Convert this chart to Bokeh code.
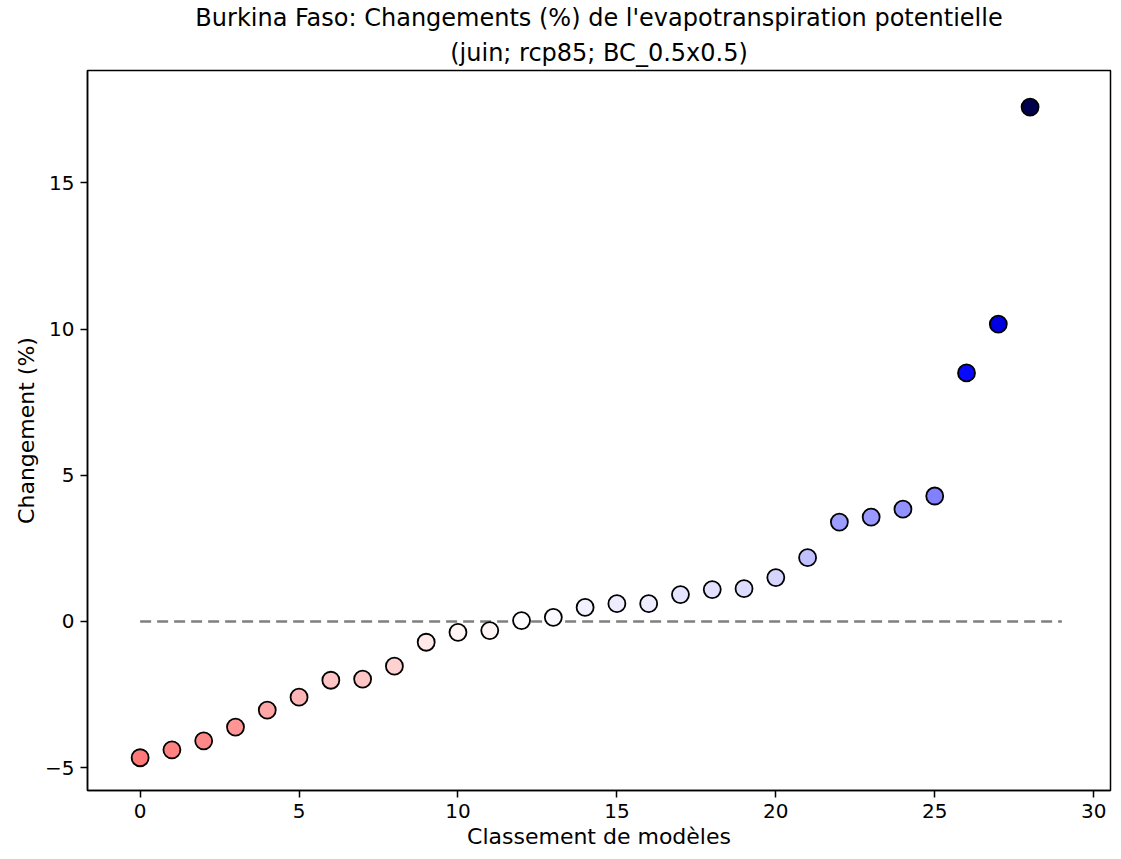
from bokeh.plotting import figure
from bokeh.models import Range1d, LinearColorMapper, ColumnDataSource, FixedTicker, Title
from bokeh.transform import transform
from bokeh.embed import file_html
from bokeh.resources import INLINE

# Data
rank = list(range(29))
change = [-4.66, -4.39, -4.08, -3.61, -3.03, -2.59, -2.01, -1.97, -1.53, -0.71,
          -0.37, -0.31, 0.03, 0.14, 0.48, 0.61, 0.61, 0.92, 1.09, 1.12,
          1.50, 2.18, 3.40, 3.57, 3.84, 4.29, 8.50, 10.17, 17.59]
x_ticks = [0, 5, 10, 15, 20, 25, 30]
y_ticks = [-5, 0, 5, 10, 15]
title_lines = ["Burkina Faso: Changements (%) de l'evapotranspiration potentielle",
               "(juin; rcp85; BC_0.5x0.5)"]
x_label = "Classement de modèles"
y_label = "Changement (%)"

# seismic_r style palette (dark red -> red -> white -> blue -> dark blue)
anchors = [(0.0, (0.5, 0.0, 0.0)), (0.25, (1.0, 0.0, 0.0)), (0.5, (1.0, 1.0, 1.0)),
           (0.75, (0.0, 0.0, 1.0)), (1.0, (0.0, 0.0, 0.3))]
palette = []
N = 256
for i in range(N):
    t = i / (N - 1)
    for (t0, c0), (t1, c1) in zip(anchors[:-1], anchors[1:]):
        if t0 <= t <= t1:
            f = (t - t0) / (t1 - t0)
            c = [c0[k] + (c1[k] - c0[k]) * f for k in range(3)]
            break
    palette.append("#%02x%02x%02x" % tuple(int(round(v * 255)) for v in c))

vmax = max(abs(v) for v in change)
mapper = LinearColorMapper(palette=palette, low=-vmax, high=vmax)

src = ColumnDataSource(dict(x=rank, y=change))

FONT = "DejaVu Sans"
p = figure(width=1113, height=851, output_backend="svg", toolbar_location=None,
           x_range=Range1d(-1.656, 30.53), y_range=Range1d(-5.78, 18.84),
           min_border_left=87, min_border_right=3, min_border_bottom=0, min_border_top=12)
p.title = None
standoffs = [2, 8]
for line, so in reversed(list(zip(title_lines, standoffs))):
    p.add_layout(Title(text=line, align="center", text_font=FONT, text_font_size="24px",
                       text_font_style="normal", text_color="black", standoff=so,
                       offset=0), "above")

p.line(x=[0, len(rank)], y=[0, 0], line_color="#808080", line_dash="11 6", line_width=2.5)
p.scatter(x="x", y="y", source=src, size=17, marker="circle",
          fill_color=transform("y", mapper), line_color="black", line_width=1.8)

p.xgrid.visible = False
p.ygrid.visible = False
p.outline_line_color = "black"
p.outline_line_width = 1.5
p.outline_line_alpha = 1

for ax in (p.xaxis[0], p.yaxis[0]):
    ax.axis_line_color = "black"
    ax.axis_line_width = 1.5
    ax.major_tick_in = 0
    ax.major_tick_out = 7
    ax.major_tick_line_width = 1.5
    ax.minor_tick_line_color = None
    ax.major_label_text_font = FONT
    ax.major_label_text_font_size = "20px"
    ax.major_label_text_color = "black"
    ax.major_label_standoff = 6
    ax.axis_label_text_font = FONT
    ax.axis_label_text_font_size = "22px"
    ax.axis_label_text_font_style = "normal"
    ax.axis_label_text_color = "black"
    ax.axis_label_standoff = 3

p.xaxis.ticker = FixedTicker(ticks=x_ticks)
p.yaxis.ticker = FixedTicker(ticks=y_ticks)
p.xaxis.axis_label = x_label
p.yaxis.axis_label = y_label
p.yaxis.major_label_orientation = "horizontal"

open("out.html", "w").write(file_html(p, INLINE))
